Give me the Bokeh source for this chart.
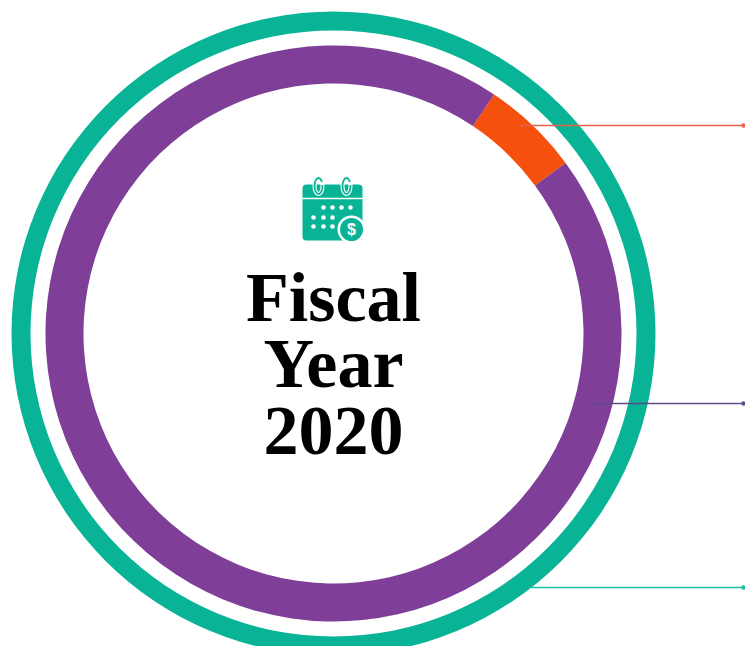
from bokeh.plotting import figure
from bokeh.models import Range1d
from bokeh.core.properties import value
from bokeh.embed import file_html
from bokeh.resources import INLINE
import math

# Data (share of the ring, percent, clockwise; the ring starts where the orange part starts)
inner_names = ["Part B", "Part A"]
inner_shares = [5.5, 94.5]
inner_colors = ["#f5500e", "#7f3f98"]
inner_start_deg = 33.9
outer_names = ["Whole"]
outer_shares = [100.0]
outer_colors = ["#09b496"]
title_lines = ["Fiscal", "Year", "2020"]

W, H = 745, 646
CX, CY = 333, 333


def sy(y):
    return H - y


p = figure(width=W, height=H, output_backend="svg", toolbar_location=None,
           x_range=Range1d(0, W), y_range=Range1d(0, H),
           min_border=0, outline_line_color=None)
p.axis.visible = False
p.grid.visible = False
p.background_fill_color = "white"
p.border_fill_color = "white"


def ring(shares, colors, r0, r1, start_deg=0.0):
    total = sum(shares)
    cum = 0.0
    st = math.radians(start_deg)
    for s, c in zip(shares, colors):
        a0 = math.pi / 2 - st - 2 * math.pi * cum / total
        cum += s
        a1 = math.pi / 2 - st - 2 * math.pi * cum / total
        p.annular_wedge(x=CX, y=sy(CY), inner_radius=r0, outer_radius=r1,
                        start_angle=a0, end_angle=a1, direction="clock",
                        fill_color=c, line_color=None)


ring(outer_shares, outer_colors, 303, 322)
ring(inner_shares, inner_colors, 250, 288, inner_start_deg)

# Leader lines
for x0, y, c in [(518, 125, "#e8604c"), (589, 403, "#5f4a88"), (530, 587, "#1cc0a0")]:
    p.line([x0, 743], [sy(y), sy(y)], line_color=c, line_width=1.3)
    p.scatter([743], [sy(y)], size=4.5, fill_color=c, line_color=None)

# Title
for line, base in zip(title_lines, [322, 388, 455]):
    p.text(x=[CX], y=[sy(base)], text=[line], text_align="center", text_baseline="alphabetic",
           text_font=value("Liberation Serif"), text_font_style="bold",
           text_font_size="70px", text_color="#000000", y_offset=-25)

# Calendar icon
TEAL = "#09b496"
p.quad(left=[302], right=[362], top=[sy(184)], bottom=[sy(240)], fill_color=TEAL,
       line_color=None, border_radius=4)
p.line([302, 362], [sy(198), sy(198)], line_color="white", line_width=1.6)
for x in (318, 346):
    p.ellipse(x=[x], y=[sy(185.5)], width=8, height=16, fill_color=None, line_color="white", line_width=4)
    p.ellipse(x=[x], y=[sy(185.5)], width=8, height=16, fill_color=None, line_color=TEAL, line_width=1.8)
    p.scatter([x + 4], [sy(183)], size=3.5, fill_color="white", line_color=None)
dots_x = [323, 332, 341, 350, 313, 323, 332, 313, 323, 332]
dots_y = [207, 207, 207, 207, 217, 217, 217, 226, 226, 226]
p.circle(x=dots_x, y=[sy(v) for v in dots_y], radius=2.3, fill_color="white", line_color=None)
p.circle(x=[351], y=[sy(229)], radius=14, fill_color="white", line_color=None)
p.circle(x=[351], y=[sy(229)], radius=11.5, fill_color=TEAL, line_color=None)
p.text(x=[351], y=[sy(235)], text=["$"], text_align="center", text_baseline="alphabetic",
       text_font=value("Liberation Sans"), text_font_style="bold", text_font_size="16px",
       text_color="white", y_offset=-6)

open("out.html", "w").write(file_html(p, INLINE))
